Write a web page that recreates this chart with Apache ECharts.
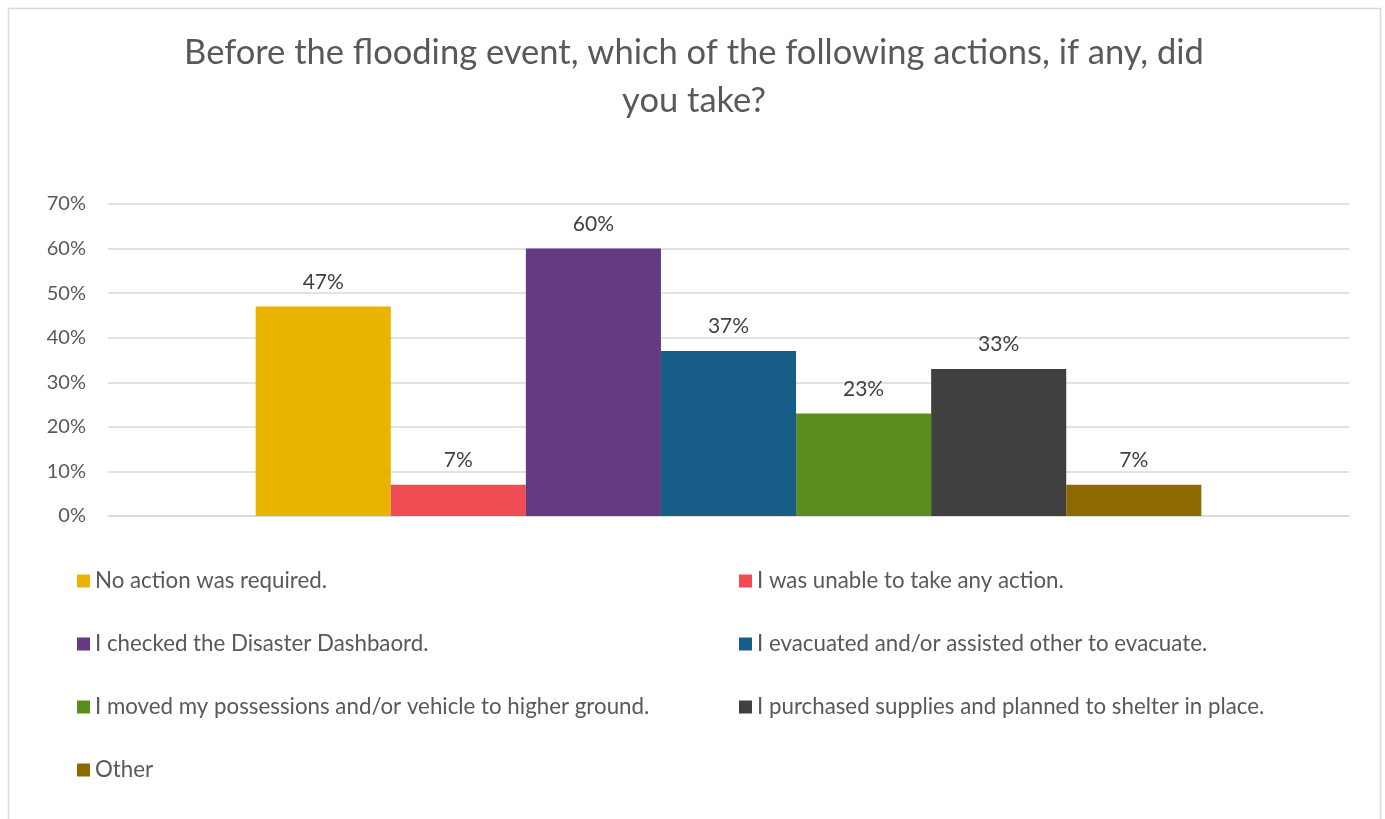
<!DOCTYPE html>
<html>
<head>
<meta charset="utf-8">
<script src="https://cdn.jsdelivr.net/npm/echarts@6/dist/echarts.min.js"></script>
<style>
  html, body { margin: 0; padding: 0; background: #fff; }
  #chart { width: 1385px; height: 819px; }
</style>
</head>
<body>
<div id="chart"></div>
<script>
// Survey responses: share of respondents taking each action
const seriesNames = [
  'No action was required.',
  'I was unable to take any action.',
  'I checked the Disaster Dashbaord.',
  'I evacuated and/or assisted other to evacuate.',
  'I moved my possessions and/or vehicle to higher ground.',
  'I purchased supplies and planned to shelter in place.',
  'Other'
];
const seriesValues = [0.47, 0.07, 0.60, 0.37, 0.23, 0.33, 0.07];
const seriesColors = ['#E8B400', '#F04C54', '#643A83', '#165E88', '#5A8C1E', '#404040', '#8C6A00'];
const categories = [''];
const titleText = 'Before the flooding event, which of the following actions, if any, did\nyou take?';

const FONT = 'Lato, "Open Sans", sans-serif';
const chart = echarts.init(document.getElementById('chart'), null, { renderer: 'canvas' });

const series = seriesNames.map((name, i) => ({
  name,
  type: 'bar',
  data: [seriesValues[i]],
  barGap: '0%',
  barCategoryGap: '23.8%',
  itemStyle: { color: seriesColors[i] },
  label: {
    show: true,
    position: 'top',
    distance: 14,
    formatter: p => Math.round(p.value * 100) + '%',
    color: '#404040',
    fontFamily: FONT,
    fontSize: 21
  }
}));

const legendText = { color: '#595959', fontFamily: FONT, fontSize: 22.3, lineHeight: 22 };
const legendBase = {
  orient: 'vertical',
  top: 565,
  itemWidth: 13,
  itemHeight: 13,
  itemGap: 41,
  icon: 'rect',
  textStyle: legendText,
  selectedMode: false
};

chart.setOption({
  animation: false,
  backgroundColor: '#ffffff',
  legend: [
    Object.assign({}, legendBase, {
      data: [seriesNames[0], seriesNames[2], seriesNames[4], seriesNames[6]],
      left: 72
    }),
    Object.assign({}, legendBase, {
      data: [seriesNames[1], seriesNames[3], seriesNames[5]],
      left: 734
    })
  ],
  grid: { left: 108, right: 36, top: 204, bottom: 303, containLabel: false },
  xAxis: {
    type: 'category',
    data: categories,
    axisLine: { show: true, lineStyle: { color: '#d9d9d9', width: 1.5 } },
    axisTick: { show: false },
    axisLabel: { show: false }
  },
  yAxis: {
    type: 'value',
    min: 0,
    max: 0.7,
    interval: 0.1,
    axisLine: { show: false },
    axisTick: { show: false },
    splitLine: { lineStyle: { color: '#d9d9d9', width: 1.5 } },
    axisLabel: {
      formatter: v => Math.round(v * 100) + '%',
      color: '#595959',
      fontFamily: FONT,
      fontSize: 20,
      margin: 22
    }
  },
  graphic: [
    {
      type: 'rect',
      shape: { x: 8.5, y: 8.5, width: 1372, height: 830 },
      style: { fill: null, stroke: '#d9d9d9', lineWidth: 1.5 },
      silent: true
    },
    {
      type: 'text',
      x: 694,
      y: 77,
      style: {
        text: titleText,
        align: 'center',
        verticalAlign: 'middle',
        fill: '#595959',
        font: '34.5px ' + FONT,
        lineHeight: 48
      },
      silent: true
    }
  ],
  series
});
</script>
</body>
</html>
